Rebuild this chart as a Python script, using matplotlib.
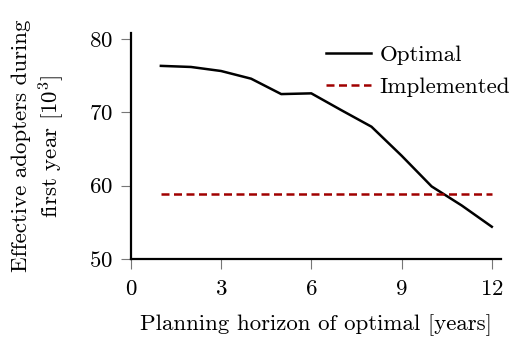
import matplotlib
matplotlib.use('Agg')
from matplotlib import pyplot as plt

# data
horizon = [1, 2, 3, 4, 5, 6, 7, 8, 9, 10, 11, 12]
optimal = [76.35, 76.2, 75.65, 74.6, 72.5, 72.6, 70.3, 68.05, 64.1, 59.9, 57.3, 54.4]
implemented = 58.8

plt.rcParams['font.family'] = 'cmr10'
plt.rcParams['mathtext.fontset'] = 'cm'
plt.rcParams['axes.formatter.use_mathtext'] = True
plt.rcParams['font.size'] = 16.5

fig = plt.figure(figsize=(5.19, 3.37), dpi=100)
ax = fig.add_axes([0.252, 0.2315, 0.713, 0.672])

ax.plot(horizon, optimal, color='black', lw=1.8, label='Optimal')
ax.plot([horizon[0], horizon[-1]], [implemented, implemented], color='#a00000',
        lw=1.8, ls=(0, (3.2, 1.8)), label='Implemented')

ax.set_xlim(0, 12.3)
ax.set_ylim(50, 80.9)
ax.set_xticks([0, 3, 6, 9, 12])
ax.set_yticks([50, 60, 70, 80])

for s in ['top', 'right']:
    ax.spines[s].set_visible(False)
for s in ['left', 'bottom']:
    ax.spines[s].set_linewidth(1.6)
ax.tick_params(direction='out', length=7, width=0.8, color='#777777')
ax.tick_params(axis='x', pad=8)
ax.tick_params(axis='y', pad=6)

ax.set_xlabel('Planning horizon of optimal [years]', labelpad=11)
ax.set_ylabel('Effective adopters during\nfirst year [$10^3$]', labelpad=16,
              linespacing=1.25)

ax.legend(loc='upper right', bbox_to_anchor=(1.05, 0.985), frameon=False,
          handlelength=1.95, handletextpad=0.4, labelspacing=0.5, borderaxespad=0)

plt.savefig('out.png', dpi=100)
